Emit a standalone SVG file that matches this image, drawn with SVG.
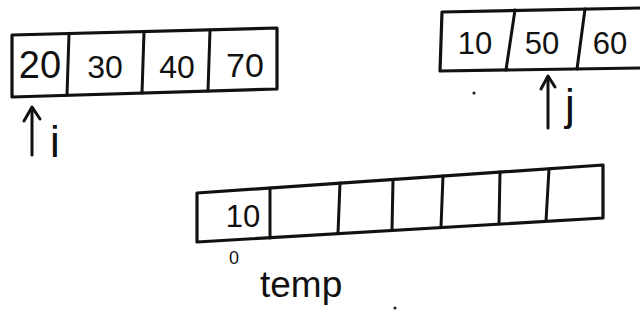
<svg xmlns="http://www.w3.org/2000/svg" width="640" height="334" viewBox="0 0 640 334">
<style>
.box{fill:none;stroke:#111;stroke-width:3.2;stroke-linejoin:round;stroke-linecap:round}
.div{stroke:#111;stroke-width:3;stroke-linecap:round}
.num{font-family:"Liberation Sans",Arial,sans-serif;fill:#111;text-anchor:middle}
.lbl{font-family:"Liberation Sans",Arial,sans-serif;fill:#111}
.arr{fill:none;stroke:#111;stroke-width:3;stroke-linecap:round;stroke-linejoin:round}
</style>
<rect width="640" height="334" fill="#ffffff"/>
<g id="array-a">
  <polygon class="box" points="12,35 277,28 277,89 12,97"/>
  <line class="div" x1="69" y1="34" x2="67" y2="95"/>
  <line class="div" x1="144" y1="32" x2="142" y2="93"/>
  <line class="div" x1="210" y1="30" x2="208" y2="91"/>
  <text class="num" x="40" y="78" font-size="38">20</text>
  <text class="num" x="105" y="78" font-size="32">30</text>
  <text class="num" x="177" y="78" font-size="32">40</text>
  <text class="num" x="245" y="77" font-size="34">70</text>
</g>
<g id="array-b">
  <polyline class="box" points="640,8 442,12 440,71 640,68"/>
  <line class="div" x1="515" y1="10" x2="506" y2="70"/>
  <line class="div" x1="585" y1="9" x2="577" y2="69"/>
  <text class="num" x="475" y="54" font-size="31">10</text>
  <text class="num" x="542" y="54" font-size="31">50</text>
  <text class="num" x="610" y="54" font-size="31">60</text>
</g>
<g id="temp-array">
  <polygon class="box" points="197,193 603,165 603,218 197,242"/>
  <line class="div" x1="270" y1="188" x2="270" y2="238"/>
  <line class="div" x1="340" y1="183" x2="338" y2="233"/>
  <line class="div" x1="393" y1="180" x2="392" y2="230"/>
  <line class="div" x1="443" y1="176" x2="441" y2="227"/>
  <line class="div" x1="500" y1="172" x2="499" y2="224"/>
  <line class="div" x1="549" y1="169" x2="546" y2="221"/>
  <text class="num" x="243" y="227" font-size="31">10</text>
  <text class="num" x="234" y="264" font-size="18">0</text>
  <text class="lbl" x="260" y="297" font-size="37">temp</text>
</g>
<g id="connectors">
  <line class="arr" x1="32" y1="155" x2="32" y2="108"/>
  <polyline class="arr" points="24,121 32,107 40,119"/>
  <line class="arr" x1="548" y1="128" x2="548" y2="77"/>
  <polyline class="arr" points="541,89 548,76 555,87"/>
</g>
<g id="labels">
  <text class="lbl" x="50" y="157" font-size="44">i</text>
  <text class="lbl" x="565" y="120" font-size="44">j</text>
  <circle cx="474" cy="93" r="1.6" fill="#222"/>
  <circle cx="395" cy="308" r="1.6" fill="#222"/>
</g>
</svg>
